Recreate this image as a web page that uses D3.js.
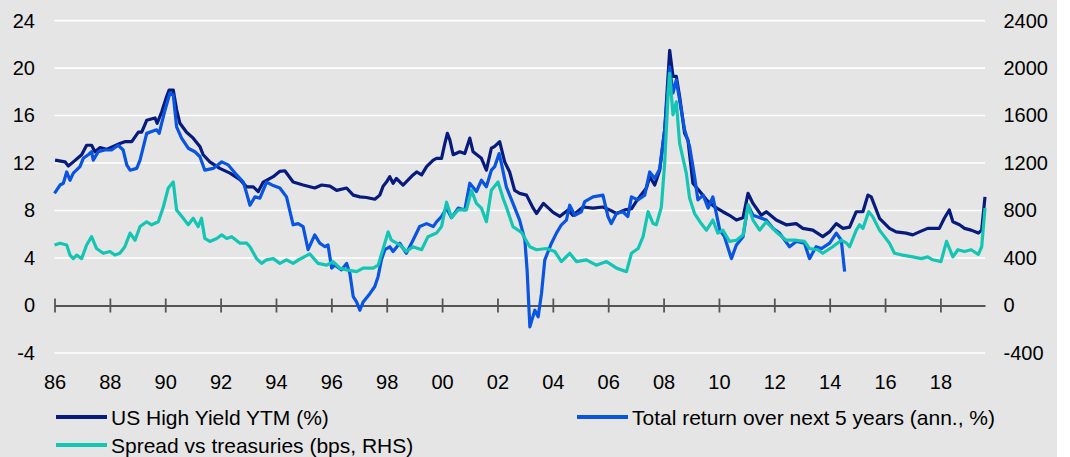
<!DOCTYPE html>
<html>
<meta charset="utf-8">
<style>
body { margin: 0; background: #fff; }
text { font-family: Arial, "Liberation Sans", sans-serif; fill: #000; }
</style>
<body>
</body>
<script src="https://cdn.jsdelivr.net/npm/d3@7/dist/d3.min.js"></script>
<script>

// US High Yield YTM (%)
var ytmYears = [1986.02,1986.38,1986.50,1986.68,1986.98,1987.16,1987.34,1987.46,1987.64,1987.88,1988.36,1988.54,1988.79,1989.03,1989.15,1989.33,1989.63,1989.71,1989.87,1990.05,1990.14,1990.29,1990.41,1990.53,1990.77,1991.01,1991.25,1991.37,1991.61,1991.97,1992.34,1992.70,1992.94,1993.18,1993.36,1993.54,1993.90,1994.14,1994.32,1994.62,1994.98,1995.40,1995.65,1995.95,1996.19,1996.55,1996.79,1997.03,1997.27,1997.57,1997.75,1997.87,1997.99,1998.11,1998.23,1998.35,1998.59,1998.95,1999.08,1999.26,1999.44,1999.68,1999.80,1999.98,2000.10,2000.19,2000.28,2000.40,2000.64,2000.82,2001.00,2001.12,2001.42,2001.60,2001.78,2001.90,2002.08,2002.26,2002.44,2002.62,2002.80,2003.05,2003.29,2003.41,2003.66,2004.01,2004.25,2004.55,2004.73,2005.09,2005.45,2005.81,2006.05,2006.30,2006.60,2006.84,2007.02,2007.38,2007.50,2007.68,2007.86,2008.04,2008.22,2008.34,2008.46,2008.58,2008.76,2008.88,2009.06,2009.31,2009.55,2009.85,2010.14,2010.38,2010.63,2010.87,2011.05,2011.23,2011.53,2011.71,2012.07,2012.43,2012.79,2013.03,2013.39,2013.75,2013.99,2014.24,2014.48,2014.72,2014.96,2015.20,2015.38,2015.50,2015.80,2016.16,2016.40,2016.76,2017.00,2017.24,2017.54,2017.96,2018.14,2018.32,2018.45,2018.69,2018.87,2019.11,2019.37,2019.49,2019.61];
var ytmValues = [12.25,12.1,11.75,12.1,12.7,13.5,13.5,12.95,13.3,13.15,13.65,13.8,13.8,14.6,14.6,15.6,15.8,15.35,16.3,17.6,18.15,18.15,16.5,15.35,14.6,14.1,13.4,12.7,12.1,11.55,11.15,10.6,10.0,10.0,9.6,10.4,10.85,11.3,11.35,10.4,10.15,9.9,10.15,10.05,9.7,9.9,9.3,9.15,9.1,8.95,9.3,10.05,10.4,10.85,10.3,10.7,10.15,11.0,11.25,11.0,11.7,12.25,12.4,12.4,13.65,14.5,13.95,12.7,12.95,12.8,14.1,12.95,12.4,11.4,13.25,13.4,13.8,12.1,11.25,9.7,9.45,9.3,8.2,7.75,8.6,7.85,7.5,8.05,7.6,8.3,8.2,8.3,8.05,7.75,8.05,8.15,8.8,9.9,10.85,10.15,11.4,14.8,21.5,19.3,19.3,17.6,14.5,13.95,10.3,9.6,8.9,8.3,7.9,7.6,7.2,7.4,9.45,8.6,7.6,7.9,7.2,6.8,6.9,6.5,6.35,5.8,6.2,6.9,6.5,6.6,7.9,7.9,9.3,9.15,7.35,6.5,6.2,6.1,5.95,6.2,6.5,6.5,7.35,8.05,7.05,6.8,6.5,6.35,6.1,6.35,9.15];

// Total return over next 5 years (ann., %)
var retYears = [1986.0,1986.20,1986.32,1986.44,1986.56,1986.68,1986.92,1987.04,1987.22,1987.34,1987.40,1987.58,1987.82,1988.06,1988.30,1988.48,1988.61,1988.73,1988.97,1989.09,1989.33,1989.51,1989.69,1989.78,1989.99,1990.17,1990.29,1990.41,1990.59,1990.83,1991.07,1991.25,1991.43,1991.73,1992.04,1992.27,1992.58,1992.82,1992.94,1993.06,1993.24,1993.42,1993.66,1993.90,1994.14,1994.38,1994.62,1994.80,1994.98,1995.16,1995.40,1995.58,1995.77,1995.88,1996.01,1996.13,1996.37,1996.55,1996.67,1996.79,1996.91,1997.03,1997.15,1997.39,1997.57,1997.69,1997.81,1997.93,1998.11,1998.23,1998.47,1998.71,1998.95,1999.19,1999.44,1999.68,1999.80,1999.98,2000.16,2000.34,2000.58,2000.82,2001.00,2001.24,2001.42,2001.60,2001.78,2001.90,2002.06,2002.14,2002.32,2002.56,2002.80,2002.99,2003.07,2003.17,2003.35,2003.47,2003.59,2003.71,2003.95,2004.13,2004.31,2004.49,2004.61,2004.79,2005.03,2005.15,2005.45,2005.81,2005.99,2006.11,2006.30,2006.53,2006.71,2006.84,2007.07,2007.32,2007.50,2007.68,2007.86,2008.04,2008.22,2008.34,2008.46,2008.58,2008.76,2008.94,2009.12,2009.24,2009.43,2009.61,2009.78,2010.03,2010.20,2010.45,2010.63,2010.87,2011.05,2011.23,2011.53,2011.71,2011.95,2012.19,2012.55,2012.79,2013.09,2013.27,2013.51,2013.70,2014.00,2014.24,2014.42,2014.54];
var retValues = [9.45,10.15,10.3,11.25,10.55,11.15,11.7,12.4,12.7,12.95,12.25,12.95,13.1,13.1,13.5,13.1,11.85,11.4,11.55,12.25,14.5,14.65,14.8,14.5,16.45,17.9,17.75,15.05,14.1,13.25,12.95,12.55,11.4,11.55,12.1,11.85,11.0,10.4,9.45,8.45,9.15,9.05,10.4,10.1,9.9,9.15,6.8,6.9,6.65,4.7,5.95,5.25,4.95,5.1,3.15,3.4,3.0,3.55,2.7,0.75,0.3,-0.4,0.3,1.0,1.6,2.45,3.85,4.7,4.95,4.55,5.25,4.4,5.5,6.65,6.9,6.65,7.05,7.5,8.2,7.4,8.2,8.05,10.3,9.6,10.55,10.0,11.4,11.7,12.8,12.0,10.0,8.6,7.2,5.5,3.0,-1.8,-0.4,-0.95,1.0,3.85,5.25,6.1,6.8,7.2,8.45,7.6,7.9,8.75,9.15,9.3,7.5,6.9,7.75,7.9,7.5,9.15,8.9,9.3,11.25,10.7,11.5,14.8,20.1,17.9,19.0,17.3,14.8,13.4,10.85,8.9,9.3,8.2,9.15,6.35,5.8,3.95,5.1,5.8,8.45,7.6,7.35,7.2,6.5,6.1,4.95,5.4,5.25,3.95,4.95,4.8,5.25,6.1,5.5,2.85];

// Spread vs treasuries (bps, RHS)
var sprYears = [1986.0,1986.20,1986.44,1986.56,1986.68,1986.80,1986.98,1987.16,1987.34,1987.52,1987.76,1988.00,1988.18,1988.36,1988.54,1988.73,1988.91,1989.09,1989.33,1989.51,1989.75,1989.93,1990.11,1990.29,1990.41,1990.65,1990.83,1991.01,1991.19,1991.31,1991.43,1991.61,1991.86,1992.04,1992.22,1992.40,1992.70,1992.94,1993.06,1993.30,1993.48,1993.66,1993.90,1994.14,1994.38,1994.62,1994.86,1995.22,1995.52,1995.83,1996.06,1996.31,1996.55,1996.91,1997.15,1997.51,1997.69,1997.93,1998.05,1998.17,1998.47,1998.71,1998.95,1999.26,1999.49,1999.80,1999.98,2000.16,2000.34,2000.58,2000.88,2001.06,2001.24,2001.42,2001.60,2001.78,2002.02,2002.20,2002.32,2002.56,2002.87,2003.17,2003.41,2003.77,2004.07,2004.31,2004.61,2004.85,2005.21,2005.57,2005.94,2006.30,2006.66,2006.84,2007.08,2007.26,2007.44,2007.62,2007.74,2007.92,2008.04,2008.16,2008.22,2008.34,2008.46,2008.58,2008.82,2008.94,2009.12,2009.36,2009.55,2009.78,2009.96,2010.14,2010.38,2010.63,2010.87,2011.05,2011.23,2011.47,2011.71,2012.07,2012.43,2012.79,2013.09,2013.27,2013.57,2013.75,2014.11,2014.42,2014.61,2014.72,2014.96,2015.08,2015.20,2015.41,2015.55,2015.80,2016.16,2016.34,2016.64,2017.00,2017.31,2017.54,2017.72,2018.02,2018.22,2018.45,2018.63,2018.87,2019.11,2019.37,2019.49,2019.61];
var sprValues = [510,525,510,425,395,425,395,510,580,480,440,455,425,440,495,610,550,665,705,680,705,830,990,1040,805,735,680,735,665,735,565,540,565,595,565,580,525,525,495,395,355,385,395,355,385,355,390,435,355,340,370,315,300,285,315,315,340,525,620,550,510,455,495,470,580,610,665,870,740,805,805,970,860,820,705,970,1040,905,830,665,615,495,470,480,455,370,440,370,385,340,370,315,285,440,480,580,790,690,680,830,1200,1760,1955,1605,1715,1365,1115,905,775,690,635,720,610,635,540,550,595,845,720,635,705,620,550,550,540,480,470,440,495,550,525,495,635,680,650,790,750,635,525,440,425,410,395,410,385,370,540,410,470,455,470,430,495,820];

// axis ticks
var xTickYears = d3.range(1986, 2019, 2);
var leftTicks = [-4, 0, 4, 8, 12, 16, 20, 24];
var rightTicks = [-400, 0, 400, 800, 1200, 1600, 2000, 2400];

var legendItems = [
  { name: "US High Yield YTM (%)", color: "#071b7c", col: 0, row: 0 },
  { name: "Total return over next 5 years (ann., %)", color: "#0a55e0", col: 1, row: 0 },
  { name: "Spread vs treasuries (bps, RHS)", color: "#14c5b4", col: 0, row: 1 }
];

var width = 1070, height = 457;
var plotLeft = 54.5, plotRight = 985, plotTop = 20.6, plotBottom = 353;
var font = "Arial, 'Liberation Sans', sans-serif";

var svg = d3.select("body").append("svg")
    .attr("width", width)
    .attr("height", height);

svg.append("rect")
    .attr("width", 1057).attr("height", height)
    .attr("fill", "#e5e5e5");

var x = d3.scaleLinear().domain([1986, 2019.61]).range([plotLeft, plotRight]);
var yL = d3.scaleLinear().domain([-4, 24]).range([plotBottom, plotTop]);
var yR = d3.scaleLinear().domain([-400, 2400]).range([plotBottom, plotTop]);

// plain hyphen minus like the original
function plain(d) { return String(d); }

// gridlines
svg.append("g").selectAll("line")
  .data(leftTicks.filter(function (d) { return d != 0; }))
  .enter().append("line")
    .attr("x1", plotLeft).attr("x2", plotRight)
    .attr("y1", function (d) { return yL(d); })
    .attr("y2", function (d) { return yL(d); })
    .attr("stroke", "#fff")
    .attr("stroke-width", 1.6);

// left axis labels
var gl = svg.append("g")
    .attr("transform", "translate(" + plotLeft + ",0)")
    .call(d3.axisLeft(yL).tickValues(leftTicks).tickSize(0).tickPadding(19.5).tickFormat(plain));
gl.select(".domain").remove();
gl.selectAll("text").attr("font-size", 20).attr("font-family", font).attr("fill", "#000");

// right axis labels
var gr = svg.append("g")
    .attr("transform", "translate(" + plotRight + ",0)")
    .call(d3.axisRight(yR).tickValues(rightTicks).tickSize(0).tickPadding(18.5).tickFormat(plain));
gr.select(".domain").remove();
gr.selectAll("text").attr("font-size", 20).attr("font-family", font).attr("fill", "#000");

// x axis at zero, ticks crossing the line
var gx = svg.append("g")
    .attr("transform", "translate(0," + yL(0) + ")")
    .call(d3.axisBottom(x).tickValues(xTickYears).tickSizeOuter(0)
      .tickFormat(function (d) { return d3.format("02d")(d % 100); }));
gx.select(".domain").attr("stroke", "#555").attr("stroke-width", 1.8);
gx.selectAll(".tick line").attr("y1", -7).attr("y2", 7).attr("stroke", "#555").attr("stroke-width", 1.8);
gx.selectAll(".tick text")
    .attr("y", 83).attr("dy", 0)
    .attr("font-size", 20).attr("font-family", font).attr("fill", "#000");

// series
function drawLine(xs, ys, yScale, color) {
  var pts = xs.map(function (d, i) { return [d, ys[i]]; });
  svg.append("path")
    .datum(pts)
    .attr("fill", "none")
    .attr("stroke", color)
    .attr("stroke-width", 3.2)
    .attr("stroke-linejoin", "round")
    .attr("d", d3.line()
      .x(function (d) { return x(d[0]); })
      .y(function (d) { return yScale(d[1]); }));
}

drawLine(ytmYears, ytmValues, yL, legendItems[0].color);
drawLine(retYears, retValues, yL, legendItems[1].color);
drawLine(sprYears, sprValues, yR, legendItems[2].color);

// legend
var legendX = [56, 577], legendY = [417, 445];
var lg = svg.append("g").selectAll("g")
  .data(legendItems).enter().append("g")
    .attr("transform", function (d) { return "translate(" + legendX[d.col] + "," + legendY[d.row] + ")"; });
lg.append("line")
    .attr("x1", 0).attr("x2", 51)
    .attr("stroke", function (d) { return d.color; })
    .attr("stroke-width", 4);
lg.append("text")
    .attr("x", 55).attr("y", 8)
    .attr("font-size", 21)
    .attr("font-family", font)
    .text(function (d) { return d.name; });

</script>
</html>
